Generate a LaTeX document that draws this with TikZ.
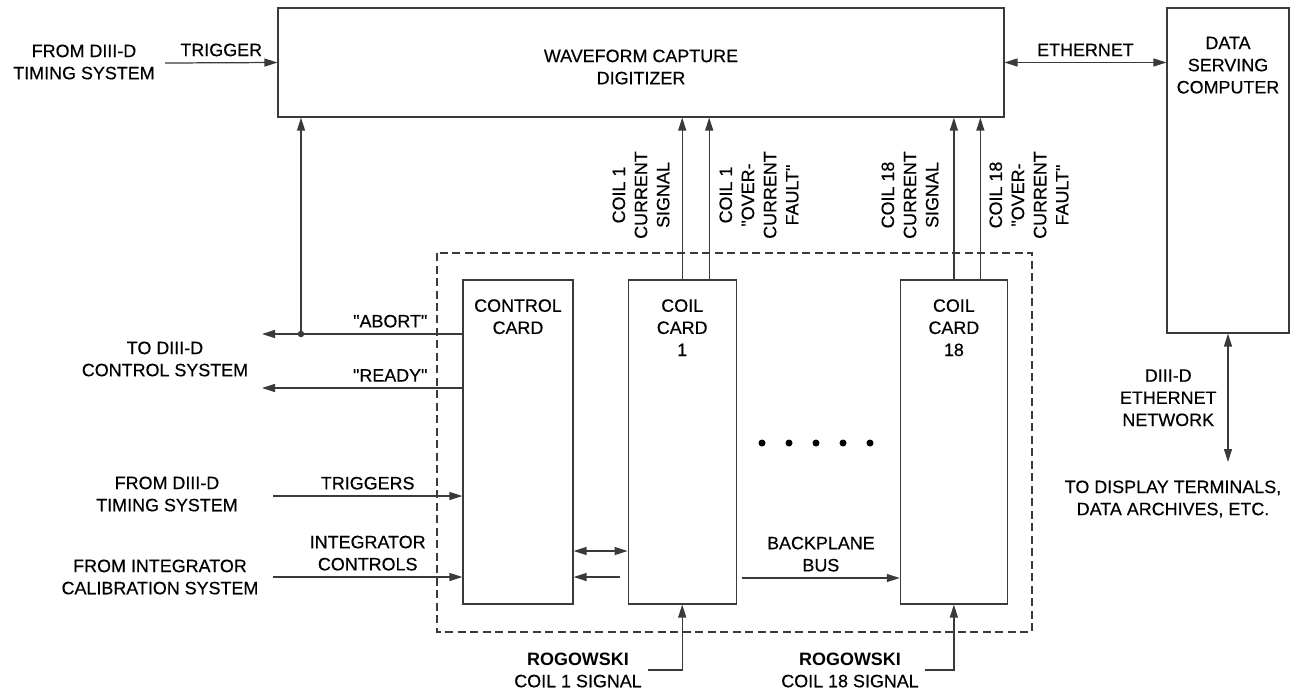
\documentclass[tikz,border=0pt]{standalone}
\usepackage{fontspec}
\setmainfont{Liberation Sans}[Ligatures=TeXOff, UprightFeatures={FakeBold=0.4}]
\usepackage{tikz}
\usetikzlibrary{arrows.meta,positioning}
\definecolor{trait}{HTML}{3A3A3A}
\newcommand{\qt}{\symbol{34}}
\tikzset{
  blk/.style={rectangle, draw=trait, line width=0.7pt, inner sep=0pt},
  card/.style={blk, minimum height=6.48cm,
               label={[lbl, anchor=north, inner sep=0pt, yshift=-0.39cm]north:#1}},
  lbl/.style={align=center, font=\fontsize{10.2}{12.6}\selectfont},
  arr/.style={-{Triangle[length=2.6mm, width=1.6mm]}, line width=0.7pt, draw=trait},
  dbl/.style={{Triangle[length=2.6mm, width=1.6mm]}-{Triangle[length=2.6mm, width=1.6mm]},
              line width=0.7pt, draw=trait},
  dashbox/.style={draw=trait, line width=0.6pt, dash pattern=on 0.16cm off 0.09cm},
}
\begin{document}
\begin{tikzpicture}[x=0.02cm, y=-0.02cm, every node/.style={lbl}]
  \useasboundingbox (0,0) rectangle (1291,691);
  % rack
  \draw[dashbox] (437,253) rectangle (1032,632);
  \node[blk, minimum width=14.52cm, minimum height=2.18cm,
        label={[lbl, yshift=-0.09cm]center:WAVEFORM CAPTURE\\DIGITIZER}] (dig) at (641,62.5) {};
  \node[blk, minimum width=2.44cm, minimum height=6.5cm,
        label={[lbl, anchor=north, inner sep=0pt, yshift=-0.58cm]north:DATA\\SERVING\\COMPUTER}]
        (dsc) at (1228,170.5) {};
  \node[card={CONTROL\\CARD}, minimum width=2.2cm] (ctrl) at (518,442) {};
  \node[card={COIL\\CARD\\1}, minimum width=2.16cm, right=1.08cm of ctrl] (coila) {};
  \node[card={COIL\\CARD\\18}, minimum width=2.14cm, right=3.26cm of coila] (coilb) {};

  % outside texts
  \node (tim) at (84,62) {FROM DIII-D\\TIMING SYSTEM};
  \node (ctl) at (165,359) {TO DIII-D\\CONTROL SYSTEM};
  \node (tima) at (167,494) {FROM DIII-D\\TIMING SYSTEM};
  \node (cal) at (160,577) {FROM INTEGRATOR\\CALIBRATION SYSTEM};
  \node (term) at (1173,499) {TO DISPLAY TERMINALS,\\DATA ARCHIVES, ETC.};
  \node (rga) at (578,670) {\textbf{ROGOWSKI}\\COIL 1 SIGNAL};
  \node (rgb) at (850,670) {\textbf{ROGOWSKI}\\COIL 18 SIGNAL};
  \node[rotate=90] (sa) at (641,195) {COIL 1\\CURRENT\\SIGNAL};
  \node[rotate=90] (fta) at (759,195) {COIL 1\\\qt OVER-\\CURRENT\\FAULT\qt};
  \node[rotate=90] (sb) at (910,195) {COIL 18\\CURRENT\\SIGNAL};
  \node[rotate=90] (ftb) at (1029,195) {COIL 18\\\qt OVER-\\CURRENT\\FAULT\qt};

  \coordinate (trg) at (165,63);
  \coordinate (abt) at (262,334);
  \coordinate (jn) at (301,334);
  \coordinate (rdy) at (262,388);
  \coordinate (trs) at (273,496);
  \coordinate (icn) at (273,577);
  \coordinate (bsa) at (0,551);
  \coordinate (bsb) at (620,577);
  \coordinate (bp) at (742,578);
  \coordinate (net) at (1228,462);
  \coordinate (fa) at ([xshift=0.54cm]coila.north);
  \coordinate (fb) at ([xshift=0.53cm]coilb.north);

  \draw[arr] (trg) -- node[above] {TRIGGER} (dig.west);
  \draw[dbl] (dig.east) -- node[above] {ETHERNET} (dig.east -| dsc.west);
  \draw[dbl] (dsc.south) -- node[left=0.1cm] {DIII-D\\ETHERNET\\NETWORK} (net);
  \draw[arr] (ctrl.west |- abt) -- node[pos=.36, above] {\qt ABORT\qt} (abt);
  \draw[arr] (jn) -- (jn |- dig.south);
  \fill[trait] (jn) circle (0.065cm);
  \draw[arr] (ctrl.west |- rdy) -- node[pos=.36, above] {\qt READY\qt} (rdy);
  \draw[arr] (trs) -- node[above] {TRIGGERS} (trs -| ctrl.west);
  \draw[arr] (icn) -- node[above] {INTEGRATOR\\CONTROLS} (icn -| ctrl.west);
  \draw[dbl] (ctrl.east |- bsa) -- (coila.west |- bsa);
  \draw[arr] (bsb) -- (bsb -| ctrl.east);
  \draw[arr] (bp) -- node[above] {BACKPLANE\\BUS} (bp -| coilb.west);
  \draw[arr] (coila.north) -- (coila.north |- dig.south);
  \draw[arr] (fa) -- (fa |- dig.south);
  \draw[arr] (coilb.north) -- (coilb.north |- dig.south);
  \draw[arr] (fb) -- (fb |- dig.south);
  \draw[arr] (rga.east) -| (coila.south);
  \draw[arr] (rgb.east) -| (coilb.south);

  \foreach \x in {762,789,816,843,870}
    \fill[black] (\x,443) circle (0.07cm);
\end{tikzpicture}
\end{document}
